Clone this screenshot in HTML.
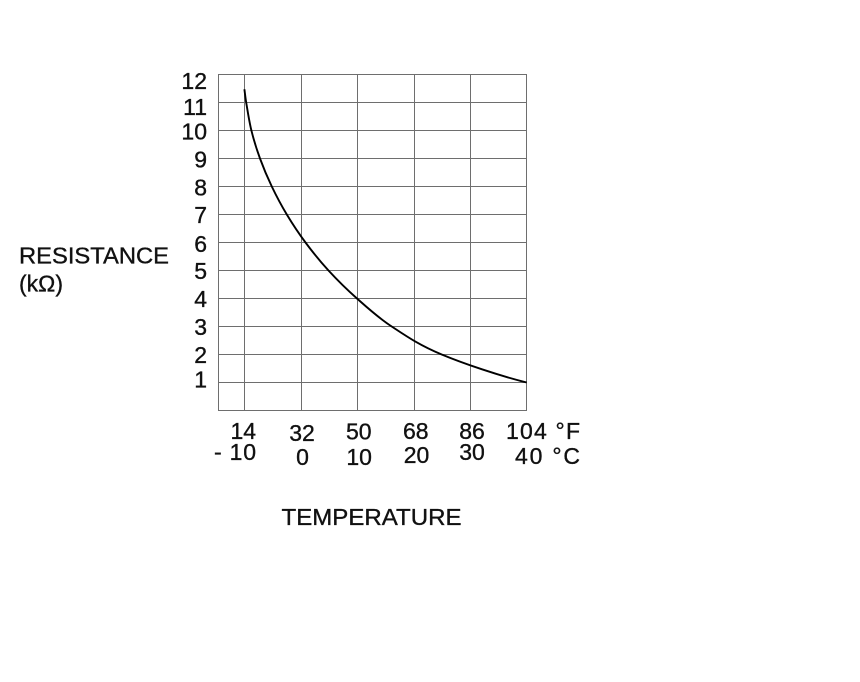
<!DOCTYPE html>
<html>
<head>
<meta charset="utf-8">
<style>
  html, body { margin:0; padding:0; background:#fff; }
  body { width:860px; height:682px; overflow:hidden; }
  svg { display:block; }
  text { font-family: "Liberation Sans", Arial, sans-serif; font-size:23px; fill:#111; stroke:#111; stroke-width:0.35; }
</style>
</head>
<body>
<svg width="860" height="682" viewBox="0 0 860 682" xmlns="http://www.w3.org/2000/svg">
  <rect x="0" y="0" width="860" height="682" fill="#fff"/>
  <!-- grid -->
  <g stroke="#6e6e6e" stroke-width="1" fill="none" shape-rendering="crispEdges">
    <rect x="218.5" y="74.5" width="308" height="336"/>
    <line x1="244.5" y1="74.5" x2="244.5" y2="410.5"/>
    <line x1="301.5" y1="74.5" x2="301.5" y2="410.5"/>
    <line x1="357.5" y1="74.5" x2="357.5" y2="410.5"/>
    <line x1="414.5" y1="74.5" x2="414.5" y2="410.5"/>
    <line x1="470.5" y1="74.5" x2="470.5" y2="410.5"/>
    <line x1="218.5" y1="102.5" x2="526.5" y2="102.5"/>
    <line x1="218.5" y1="130.5" x2="526.5" y2="130.5"/>
    <line x1="218.5" y1="158.5" x2="526.5" y2="158.5"/>
    <line x1="218.5" y1="186.5" x2="526.5" y2="186.5"/>
    <line x1="218.5" y1="214.5" x2="526.5" y2="214.5"/>
    <line x1="218.5" y1="242.5" x2="526.5" y2="242.5"/>
    <line x1="218.5" y1="270.5" x2="526.5" y2="270.5"/>
    <line x1="218.5" y1="298.5" x2="526.5" y2="298.5"/>
    <line x1="218.5" y1="326.5" x2="526.5" y2="326.5"/>
    <line x1="218.5" y1="354.5" x2="526.5" y2="354.5"/>
    <line x1="218.5" y1="382.5" x2="526.5" y2="382.5"/>
  </g>
  <!-- curve -->
  <path fill="none" stroke="#000" stroke-width="1.9" stroke-linecap="butt"
    d="M244.4,89.3
       C245.0,93.7 245.45,98.1 246.2,102.5
       C247.79,111.83 249.1,121.17 251.4,130.5
       C253.7,139.83 256.6,149.17 260,158.5
       C263.4,167.83 267.33,177.17 271.8,186.5
       C276.27,195.83 281.18,205.17 286.8,214.5
       C292.42,223.83 298.55,233.17 305.5,242.5
       C312.45,251.83 319.92,261.17 328.5,270.5
       C337.08,279.83 346.47,289.17 357,298.5
       C367.53,307.83 377.58,317.17 391.7,326.5
       C405.82,335.83 419.2,345.17 441.7,354.5
       C464.2,363.83 498.4,375.4 526.7,382.5"/>
  <!-- y labels -->
  <g text-anchor="end">
    <text x="207" y="89">12</text>
    <text x="207" y="115">11</text>
    <text x="207" y="139.5">10</text>
    <text x="207" y="167.7">9</text>
    <text x="207" y="195.7">8</text>
    <text x="207" y="223.2">7</text>
    <text x="207" y="252">6</text>
    <text x="207" y="279">5</text>
    <text x="207" y="307">4</text>
    <text x="207" y="335">3</text>
    <text x="207" y="363.2">2</text>
    <text x="207" y="387.4">1</text>
  </g>
  <text x="19" y="263.5" textLength="150" lengthAdjust="spacingAndGlyphs">RESISTANCE</text>
  <text x="19" y="291.5">(kΩ)</text>
  <!-- x labels -->
  <g text-anchor="middle">
    <text x="243.3" y="439">14</text>
    <text x="302" y="441">32</text>
    <text x="358.8" y="439.5">50</text>
    <text x="415.8" y="439">68</text>
    <text x="472" y="439">86</text>
    <text x="302.5" y="465">0</text>
    <text x="359.2" y="465">10</text>
    <text x="416.5" y="463">20</text>
    <text x="472" y="460">30</text>
  </g>
  <text x="506" y="439" textLength="74" lengthAdjust="spacing">104 °F</text>
  <text x="214" y="460" textLength="42" lengthAdjust="spacing">- 10</text>
  <text x="515" y="464" textLength="65" lengthAdjust="spacing">40 °C</text>
  <text x="281.5" y="525" textLength="180" lengthAdjust="spacingAndGlyphs">TEMPERATURE</text>
</svg>
</body>
</html>
